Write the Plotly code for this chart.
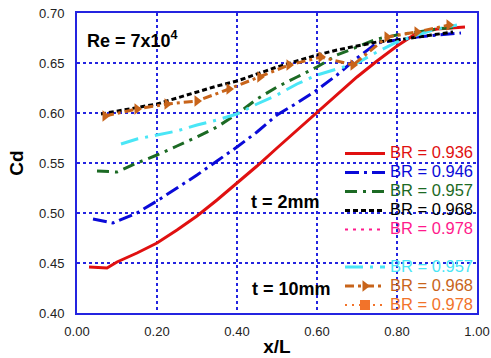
import plotly.graph_objects as go

# ---- data ----
x_936 = [0.03, 0.075, 0.10, 0.15, 0.20, 0.25, 0.30, 0.35, 0.40, 0.45, 0.50, 0.55, 0.60, 0.65, 0.70, 0.75, 0.80, 0.85, 0.90, 0.97]
y_936 = [0.446, 0.445, 0.451, 0.460, 0.470, 0.483, 0.497, 0.513, 0.530, 0.547, 0.565, 0.583, 0.600, 0.618, 0.636, 0.652, 0.667, 0.680, 0.684, 0.686]

x_946 = [0.04, 0.09, 0.15, 0.20, 0.25, 0.30, 0.35, 0.40, 0.45, 0.50, 0.55, 0.60, 0.65, 0.70, 0.75, 0.80, 0.85, 0.90, 0.96]
y_946 = [0.494, 0.490, 0.500, 0.512, 0.525, 0.538, 0.552, 0.566, 0.581, 0.598, 0.610, 0.623, 0.638, 0.655, 0.670, 0.673, 0.676, 0.678, 0.680]

x_957 = [0.05, 0.10, 0.15, 0.20, 0.25, 0.30, 0.35, 0.40, 0.45, 0.50, 0.55, 0.60, 0.65, 0.70, 0.75, 0.80, 0.85, 0.90, 0.95]
y_957 = [0.542, 0.541, 0.550, 0.558, 0.567, 0.576, 0.586, 0.599, 0.614, 0.626, 0.636, 0.646, 0.658, 0.666, 0.674, 0.678, 0.681, 0.684, 0.686]

x_968 = [0.06, 0.10, 0.15, 0.20, 0.25, 0.30, 0.35, 0.40, 0.45, 0.50, 0.55, 0.60, 0.65, 0.70, 0.75, 0.80, 0.85, 0.90, 0.94]
y_968 = [0.599, 0.602, 0.605, 0.609, 0.615, 0.621, 0.627, 0.632, 0.639, 0.646, 0.652, 0.658, 0.663, 0.667, 0.671, 0.673, 0.676, 0.679, 0.681]

x_978 = [None]
y_978 = [None]

x_957b = [0.11, 0.15, 0.20, 0.25, 0.30, 0.35, 0.40, 0.45, 0.50, 0.55, 0.60, 0.65, 0.70, 0.75, 0.80, 0.85, 0.90, 0.95]
y_957b = [0.569, 0.574, 0.578, 0.582, 0.588, 0.593, 0.599, 0.609, 0.618, 0.629, 0.638, 0.644, 0.650, 0.661, 0.671, 0.678, 0.684, 0.688]

x_968b = [0.07, 0.15, 0.225, 0.30, 0.38, 0.457, 0.53, 0.61, 0.69, 0.775, 0.85, 0.93]
y_968b = [0.597, 0.604, 0.609, 0.612, 0.624, 0.636, 0.648, 0.656, 0.648, 0.676, 0.681, 0.688]

x_978b = [None]
y_978b = [None]

x_ticks = [0.0, 0.2, 0.4, 0.6, 0.8, 1.0]
y_ticks = [0.40, 0.45, 0.50, 0.55, 0.60, 0.65, 0.70]

FONT = "Arial, Liberation Sans, sans-serif"
BLUE = "#2424e0"


def lab(text, color):
    return f"<span style='color:{color};font-size:16.5px'>{text}</span>"


fig = go.Figure()

series = [
    (x_936, y_936, "BR = 0.936", "#e01010", "solid", None, "legend", 3),
    (x_946, y_946, "BR = 0.946", "#0a0ad8", "14px,5px,3px,5px", None, "legend", 3),
    (x_957, y_957, "BR = 0.957", "#1c6a24", "12px,6px,3px,6px", None, "legend", 3),
    (x_968, y_968, "BR = 0.968", "#000000", "5px,3px", None, "legend", 3),
    (x_978, y_978, "BR = 0.978", "#ff1a8c", "3px,5px", None, "legend", 2),
    (x_957b, y_957b, "BR = 0.957", "#4ae6f6", "18px,7px,3px,7px", None, "legend2", 3),
    (x_968b, y_968b, "BR = 0.968", "#c8641a", "9px,4px,3px,4px", "triangle-right", "legend2", 3),
    (x_978b, y_978b, "BR = 0.978", "#f2732a", "2px,5px", "square", "legend2", 2),
]

for xs, ys, name, color, dash, sym, leg, w in series:
    kw = dict(mode="lines")
    if sym:
        kw = dict(mode="lines+markers", marker=dict(symbol=sym, size=10, color=color))
    fig.add_trace(go.Scatter(
        x=xs, y=ys, name=lab(name, color), legend=leg,
        line=dict(color=color, width=w, dash=dash), **kw))

fig.update_layout(
    width=491, height=358,
    margin=dict(l=77, r=14, t=13, b=45, autoexpand=False),
    paper_bgcolor="white", plot_bgcolor="white",
    font=dict(family=FONT, size=13, color="#222222"),
    legend=dict(x=0.6575, y=0.58, xanchor="left", yanchor="top",
                bgcolor="rgba(0,0,0,0)", itemwidth=40,
                font=dict(size=12), tracegroupgap=0),
    legend2=dict(x=0.6575, y=0.202, xanchor="left", yanchor="top",
                 bgcolor="rgba(0,0,0,0)", itemwidth=40,
                 font=dict(size=12), tracegroupgap=0),
    annotations=[
        dict(text="<b>Re = 7x10<sup>4</sup></b>", x=0.02, y=0.91, xref="paper", yref="paper",
             xanchor="left", yanchor="middle", showarrow=False,
             font=dict(size=18, color="black", family=FONT)),
        dict(text="<b>t = 2mm</b>", x=0.52, y=0.511, xref="x", yref="y",
             xanchor="center", yanchor="middle", showarrow=False,
             font=dict(size=18, color="black", family=FONT)),
        dict(text="<b>t = 10mm</b>", x=0.535, y=0.424, xref="x", yref="y",
             xanchor="center", yanchor="middle", showarrow=False,
             font=dict(size=18, color="black", family=FONT)),
    ],
)

fig.update_xaxes(
    range=[0, 1], tickvals=x_ticks, tickformat=".2f", automargin=False,
    showgrid=True, gridcolor=BLUE, griddash="dot", gridwidth=1.5,
    showline=True, linecolor=BLUE, linewidth=2, mirror=True,
    zeroline=False, ticks="", ticklabelstandoff=5,
    title=dict(text="<b>x/L</b>", font=dict(size=19, color="black"), standoff=2),
)
fig.update_yaxes(
    range=[0.4, 0.7], tickvals=y_ticks, tickformat=".2f", automargin=False,
    showgrid=True, gridcolor=BLUE, griddash="dot", gridwidth=1.5,
    showline=True, linecolor=BLUE, linewidth=2, mirror=True,
    zeroline=False, ticks="", ticklabelstandoff=8,
    title=dict(text="<b>Cd</b>", font=dict(size=19, color="black"), standoff=10),
)

fig.write_html("out.html")
